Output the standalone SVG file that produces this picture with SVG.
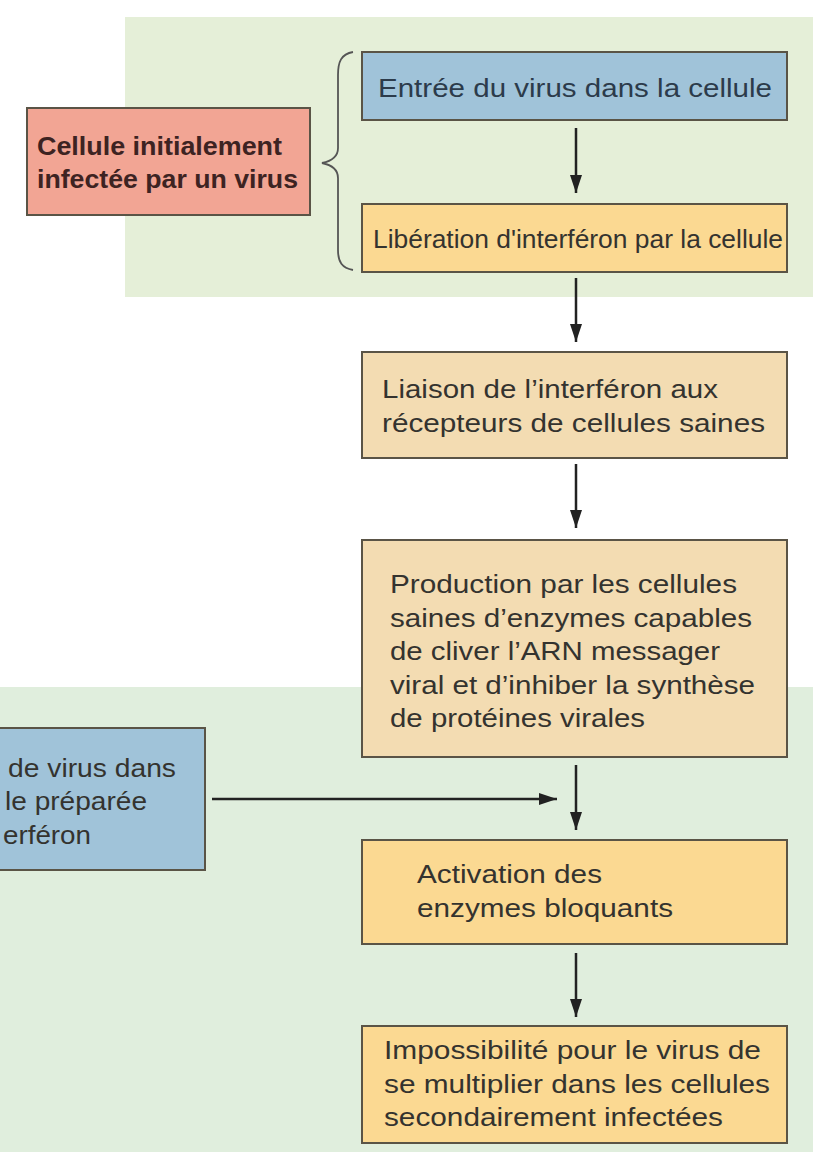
<svg xmlns="http://www.w3.org/2000/svg" width="823" height="1157" viewBox="0 0 823 1157">
<style>
.box{stroke:#5a5446;stroke-width:2}
.blue{fill:#a0c3d9}
.red{fill:#f2a594}
.yel{fill:#fbd992}
.tan{fill:#f3dcb2}
.t{font-family:"Liberation Sans",Arial,sans-serif;font-size:26px;fill:#34332f}
.tb{font-family:"Liberation Sans",Arial,sans-serif;font-size:26px;font-weight:bold;fill:#3d2322}
.tblue{fill:#2c3b4b}
.conn line{stroke:#222;stroke-width:2.5}
</style>
<defs>
<marker id="ah" viewBox="0 0 18 12" refX="18" refY="6" markerWidth="18" markerHeight="12" markerUnits="userSpaceOnUse" orient="auto">
<path d="M0,0 L18,6 L0,12 z" fill="#222"/>
</marker>
</defs>
<rect width="823" height="1157" fill="#ffffff"/>
<rect id="bg-top" x="125" y="17" width="688" height="280" fill="#e5efd8"/>
<rect id="bg-bottom" x="0" y="687" width="813" height="465" fill="#e0eedd"/>

<g id="n-cellule">
<rect class="box red" x="27" y="108" width="283" height="107"/>
<text class="tb" x="37" y="155" textLength="245" lengthAdjust="spacingAndGlyphs">Cellule initialement</text>
<text class="tb" x="37" y="188" textLength="261" lengthAdjust="spacingAndGlyphs">infectée par un virus</text>
</g>
<g id="brace">
<path d="M353,52 C341,54 338,62 338,75 L338,148 C338,156 332,161 322,163 C332,165 338,170 338,178 L338,250 C338,262 342,268 353,270" fill="none" stroke="#555" stroke-width="1.8"/>
</g>
<g id="n-entree">
<rect class="box blue" x="362" y="52" width="425" height="68"/>
<text class="t tblue" x="378" y="97" textLength="394" lengthAdjust="spacingAndGlyphs">Entrée du virus dans la cellule</text>
</g>
<g id="n-liberation">
<rect class="box yel" x="362" y="204" width="425" height="68"/>
<text class="t" x="373" y="248" textLength="410" lengthAdjust="spacingAndGlyphs">Libération d'interféron par la cellule</text>
</g>
<g id="n-liaison">
<rect class="box tan" x="362" y="352" width="425" height="106"/>
<text class="t" x="382" y="398" textLength="336" lengthAdjust="spacingAndGlyphs">Liaison de l’interféron aux</text>
<text class="t" x="382" y="432" textLength="383" lengthAdjust="spacingAndGlyphs">récepteurs de cellules saines</text>
</g>
<g id="n-production">
<rect class="box tan" x="362" y="540" width="425" height="217"/>
<text class="t" x="390" y="593" textLength="347" lengthAdjust="spacingAndGlyphs">Production par les cellules</text>
<text class="t" x="390" y="627" textLength="362" lengthAdjust="spacingAndGlyphs">saines d’enzymes capables</text>
<text class="t" x="390" y="660" textLength="330" lengthAdjust="spacingAndGlyphs">de cliver l’ARN messager</text>
<text class="t" x="390" y="694" textLength="365" lengthAdjust="spacingAndGlyphs">viral et d’inhiber la synthèse</text>
<text class="t" x="390" y="727" textLength="255" lengthAdjust="spacingAndGlyphs">de protéines virales</text>
</g>
<g id="n-entree2">
<rect class="box blue" x="-5" y="728" width="210" height="142"/>
<text class="t" x="8" y="777" textLength="168" lengthAdjust="spacingAndGlyphs">de virus dans</text>
<text class="t" x="5" y="810" textLength="142" lengthAdjust="spacingAndGlyphs">le préparée</text>
<text class="t" x="3" y="844" textLength="88" lengthAdjust="spacingAndGlyphs">erféron</text>
</g>
<g id="n-activation">
<rect class="box yel" x="362" y="840" width="425" height="104"/>
<text class="t" x="417" y="883" textLength="185" lengthAdjust="spacingAndGlyphs">Activation des</text>
<text class="t" x="417" y="917" textLength="256" lengthAdjust="spacingAndGlyphs">enzymes bloquants</text>
</g>
<g id="n-impossibilite">
<rect class="box yel" x="362" y="1026" width="425" height="117"/>
<text class="t" x="384" y="1059" textLength="377" lengthAdjust="spacingAndGlyphs">Impossibilité pour le virus de</text>
<text class="t" x="384" y="1093" textLength="386" lengthAdjust="spacingAndGlyphs">se multiplier dans les cellules</text>
<text class="t" x="384" y="1126" textLength="339" lengthAdjust="spacingAndGlyphs">secondairement infectées</text>
</g>

<g class="conn" id="connectors">
<line x1="576" y1="128" x2="576" y2="193" marker-end="url(#ah)"/>
<line x1="576" y1="278" x2="576" y2="342" marker-end="url(#ah)"/>
<line x1="576" y1="464" x2="576" y2="528" marker-end="url(#ah)"/>
<line x1="576" y1="765" x2="576" y2="830" marker-end="url(#ah)"/>
<line x1="576" y1="953" x2="576" y2="1017" marker-end="url(#ah)"/>
<line x1="212" y1="799" x2="557" y2="799" marker-end="url(#ah)"/>
</g>
</svg>
